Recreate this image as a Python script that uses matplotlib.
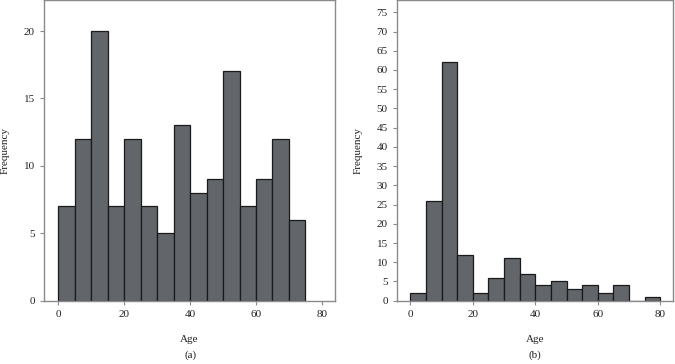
import matplotlib
matplotlib.use("Agg")
import matplotlib.pyplot as plt

# histogram data (bin counts, 5-year age bins)
bins_a = [0, 5, 10, 15, 20, 25, 30, 35, 40, 45, 50, 55, 60, 65, 70, 75]
counts_a = [7, 12, 20, 7, 12, 7, 5, 13, 8, 9, 17, 7, 9, 12, 6]

bins_b = [0, 5, 10, 15, 20, 25, 30, 35, 40, 45, 50, 55, 60, 65, 70, 75, 80]
counts_b = [2, 26, 62, 12, 2, 6, 11, 7, 4, 5, 3, 4, 2, 4, 0, 1]

x_label = "Age"
y_label = "Frequency"

plt.rcParams["font.family"] = ["Liberation Serif", "DejaVu Serif"]
plt.rcParams["font.size"] = 8

bar_color = "#626569"
frame_color = "#8a8a8a"


def draw(ax, bins, counts, ylim, yticks):
    ax.hist(bins[:-1], bins=bins, weights=counts, color=bar_color,
            edgecolor="#1a1a1a", linewidth=0.9)
    ax.set_xlim(-4.4, 84)
    ax.set_ylim(0, ylim)
    ax.set_xticks([0, 20, 40, 60, 80])
    ax.set_yticks(yticks)
    for s in ax.spines.values():
        s.set_color(frame_color)
        s.set_linewidth(1.0)
    ax.tick_params(color=frame_color, length=3, width=0.8, labelsize=8,
                   labelcolor="#222222")
    ax.set_xlabel(x_label, fontsize=8, labelpad=12, color="#222222")
    ax.set_ylabel(y_label, fontsize=8, labelpad=10, color="#222222")


fig = plt.figure(figsize=(6.75, 3.64), dpi=100)
ax1 = fig.add_axes([44 / 675, 1 - 300.7 / 364, 291 / 675, 300.7 / 364])
ax2 = fig.add_axes([396.7 / 675, 1 - 300.7 / 364, 276 / 675, 300.7 / 364])

draw(ax1, bins_a, counts_a, 22.3, [0, 5, 10, 15, 20])
draw(ax2, bins_b, counts_b, 78.2, list(range(0, 80, 5)))

fig.text(191 / 675, 1 - 355 / 364, "(a)", ha="center", va="center",
         fontsize=8, color="#222222")
fig.text(535 / 675, 1 - 355 / 364, "(b)", ha="center", va="center",
         fontsize=8, color="#222222")

fig.savefig("out.png", dpi=100)
